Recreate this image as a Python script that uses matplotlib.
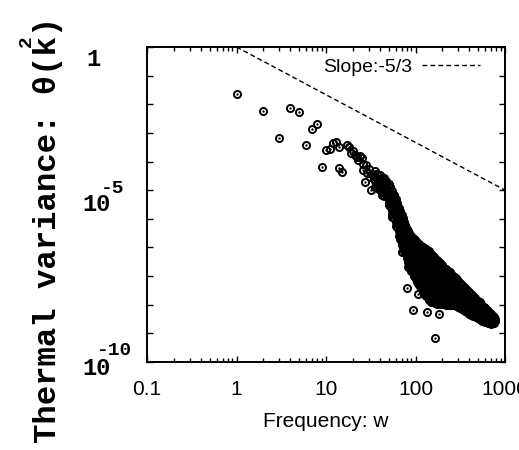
import numpy as np
import matplotlib
matplotlib.use('Agg')
import matplotlib.pyplot as plt
from matplotlib.ticker import FixedLocator, NullFormatter, NullLocator, LogLocator

# scattered low-frequency points: frequency w and log10 of theta^2(k)
sparse_w = [1, 2, 3, 4, 5, 6, 7, 8, 9, 10, 11, 12, 13, 14, 14, 15, 17, 18, 19, 20,
            21, 22, 23, 24, 25, 26, 26, 27, 28, 29, 30, 31, 32, 33, 34, 42,
            70, 80, 83, 94, 107, 133, 165, 185]
sparse_logy = [-1.65, -2.23, -3.17, -2.12, -2.26, -3.42, -2.87, -2.70, -4.20, -3.60,
               -3.55, -3.36, -3.31, -3.50, -4.24, -4.35, -3.42, -3.48, -3.71, -3.62,
               -3.78, -3.85, -3.95, -3.80, -3.88, -4.10, -4.29, -4.70, -4.12, -4.41,
               -4.25, -4.55, -4.99, -4.45, -4.62, -5.17,
               -7.15, -8.43, -7.67, -9.18, -8.62, -9.24, -10.17, -9.33]

# dense part: several values for each frequency
dense_w = [35, 40, 45, 50, 55, 60, 65, 70, 75, 80, 85, 90, 95, 100, 110, 120, 130,
           140, 150, 160, 175, 190, 200, 220, 240, 260, 280, 300, 330, 360, 400,
           440, 480, 520, 560, 600, 650, 700, 750, 780]
dense_logy = [
    [-4.33, -4.50, -4.68, -4.89],
    [-4.48, -4.64, -4.82, -5.00],
    [-4.58, -4.74, -4.92, -5.08, -5.19],
    [-4.80, -4.96, -5.12, -5.30, -5.46, -5.52],
    [-5.02, -5.18, -5.35, -5.52, -5.68, -5.84, -5.92],
    [-5.31, -5.46, -5.62, -5.78, -5.94, -6.10, -6.24],
    [-5.63, -5.78, -5.94, -6.10, -6.26, -6.42, -6.60],
    [-5.88, -6.03, -6.19, -6.35, -6.51, -6.67, -6.82, -6.92],
    [-6.12, -6.27, -6.43, -6.59, -6.75, -6.91, -7.05, -7.12],
    [-6.35, -6.50, -6.66, -6.82, -6.98, -7.14, -7.28, -7.38],
    [-6.51, -6.66, -6.82, -6.98, -7.14, -7.30, -7.46, -7.60],
    [-6.61, -6.76, -6.92, -7.08, -7.24, -7.40, -7.56, -7.70, -7.82],
    [-6.69, -6.84, -7.00, -7.16, -7.32, -7.48, -7.64, -7.80, -7.95],
    [-6.76, -6.91, -7.07, -7.23, -7.39, -7.55, -7.71, -7.87, -8.02, -8.10],
    [-6.89, -7.04, -7.20, -7.36, -7.52, -7.68, -7.84, -8.00, -8.16, -8.32],
    [-6.98, -7.13, -7.29, -7.45, -7.61, -7.77, -7.93, -8.09, -8.25, -8.41, -8.56],
    [-7.06, -7.21, -7.37, -7.53, -7.69, -7.85, -8.01, -8.17, -8.33, -8.49, -8.65, -8.71],
    [-7.14, -7.29, -7.45, -7.61, -7.77, -7.93, -8.09, -8.25, -8.41, -8.57, -8.73, -8.84],
    [-7.24, -7.39, -7.55, -7.71, -7.87, -8.03, -8.19, -8.35, -8.51, -8.67, -8.83, -8.91],
    [-7.33, -7.48, -7.64, -7.80, -7.96, -8.12, -8.28, -8.44, -8.60, -8.76, -8.90],
    [-7.45, -7.60, -7.76, -7.92, -8.08, -8.24, -8.40, -8.56, -8.72, -8.88, -8.96],
    [-7.56, -7.71, -7.87, -8.03, -8.19, -8.35, -8.51, -8.67, -8.83, -8.98],
    [-7.63, -7.78, -7.94, -8.10, -8.26, -8.42, -8.58, -8.74, -8.90, -8.99],
    [-7.76, -7.91, -8.07, -8.23, -8.39, -8.55, -8.71, -8.87, -9.01],
    [-7.87, -8.02, -8.18, -8.34, -8.50, -8.66, -8.82, -8.98],
    [-7.98, -8.13, -8.29, -8.45, -8.61, -8.77, -8.93, -9.01],
    [-8.08, -8.23, -8.39, -8.55, -8.71, -8.87, -9.02],
    [-8.18, -8.33, -8.49, -8.65, -8.81, -8.97, -9.08],
    [-8.31, -8.46, -8.62, -8.78, -8.94, -9.10, -9.16],
    [-8.43, -8.58, -8.74, -8.90, -9.06, -9.23],
    [-8.57, -8.72, -8.88, -9.04, -9.20, -9.31],
    [-8.70, -8.85, -9.01, -9.17, -9.38],
    [-8.82, -8.97, -9.13, -9.29, -9.44],
    [-8.92, -9.07, -9.23, -9.39, -9.50],
    [-9.03, -9.18, -9.34, -9.50, -9.56],
    [-9.12, -9.27, -9.43, -9.60],
    [-9.23, -9.38, -9.52, -9.64],
    [-9.33, -9.48, -9.62, -9.66],
    [-9.43, -9.55, -9.64],
    [-9.50, -9.58],
]
# in-between frequencies of the dense part
mid_w = [37, 42, 47, 52, 57, 62, 67, 72, 77, 82, 87, 92, 97, 105, 115, 125, 135,
         145, 155, 167, 182, 195, 210, 230, 250, 270, 290, 315, 345, 380, 420,
         460, 500, 540, 580, 625, 675, 725]
mid_logy = [
    [-4.42, -4.60, -4.78, -4.94],
    [-4.56, -4.73, -4.91, -5.08],
    [-4.68, -4.85, -5.02, -5.18],
    [-4.90, -5.06, -5.22, -5.39, -5.55],
    [-5.16, -5.32, -5.48, -5.64, -5.80, -5.96],
    [-5.46, -5.62, -5.78, -5.94, -6.10, -6.28],
    [-5.74, -5.90, -6.06, -6.22, -6.38, -6.54, -6.70],
    [-5.98, -6.14, -6.30, -6.46, -6.62, -6.78, -6.96],
    [-6.22, -6.38, -6.54, -6.70, -6.86, -7.02, -7.20],
    [-6.42, -6.58, -6.74, -6.90, -7.06, -7.22, -7.40, -7.50],
    [-6.56, -6.72, -6.88, -7.04, -7.20, -7.36, -7.52, -7.66],
    [-6.66, -6.82, -6.98, -7.14, -7.30, -7.46, -7.62, -7.80],
    [-6.72, -6.88, -7.04, -7.20, -7.36, -7.52, -7.68, -7.84, -7.98],
    [-6.84, -6.99, -7.15, -7.31, -7.47, -7.63, -7.79, -7.95, -8.11, -8.22],
    [-6.94, -7.10, -7.26, -7.42, -7.58, -7.74, -7.90, -8.06, -8.22, -8.40],
    [-7.02, -7.18, -7.34, -7.50, -7.66, -7.82, -7.98, -8.14, -8.30, -8.46, -8.62],
    [-7.10, -7.26, -7.42, -7.58, -7.74, -7.90, -8.06, -8.22, -8.38, -8.54, -8.70],
    [-7.19, -7.35, -7.51, -7.67, -7.83, -7.99, -8.15, -8.31, -8.47, -8.63, -8.79],
    [-7.29, -7.45, -7.61, -7.77, -7.93, -8.09, -8.25, -8.41, -8.57, -8.73, -8.88],
    [-7.39, -7.55, -7.71, -7.87, -8.03, -8.19, -8.35, -8.51, -8.67, -8.83, -8.93],
    [-7.51, -7.67, -7.83, -7.99, -8.15, -8.31, -8.47, -8.63, -8.79, -8.94],
    [-7.60, -7.76, -7.92, -8.08, -8.24, -8.40, -8.56, -8.72, -8.88, -8.98],
    [-7.70, -7.86, -8.02, -8.18, -8.34, -8.50, -8.66, -8.82, -8.96],
    [-7.82, -7.98, -8.14, -8.30, -8.46, -8.62, -8.78, -8.94, -9.01],
    [-7.93, -8.09, -8.25, -8.41, -8.57, -8.73, -8.89, -9.01],
    [-8.03, -8.19, -8.35, -8.51, -8.67, -8.83, -8.99],
    [-8.13, -8.29, -8.45, -8.61, -8.77, -8.93, -9.05],
    [-8.25, -8.41, -8.57, -8.73, -8.89, -9.05, -9.12],
    [-8.37, -8.53, -8.69, -8.85, -9.01, -9.18],
    [-8.50, -8.66, -8.82, -8.98, -9.14, -9.27],
    [-8.64, -8.80, -8.96, -9.12, -9.28, -9.35],
    [-8.76, -8.92, -9.08, -9.24, -9.41],
    [-8.87, -9.03, -9.19, -9.35, -9.47],
    [-8.98, -9.14, -9.30, -9.46, -9.53],
    [-9.08, -9.24, -9.40, -9.58],
    [-9.18, -9.33, -9.48, -9.62],
    [-9.28, -9.43, -9.58, -9.65],
    [-9.38, -9.52, -9.63],
]

# reference line
slope_w = [1, 1000]
slope_label = 'Slope:-5/3'

xtick_vals = [0.1, 1, 10, 100, 1000]
xtick_labels = ['0.1', '1', '10', '100', '1000']

plt.rcParams['font.family'] = 'Liberation Sans'
mono = 'Liberation Mono'

w = list(sparse_w)
ly = list(sparse_logy)
for wi, col in list(zip(dense_w, dense_logy)) + list(zip(mid_w, mid_logy)):
    w += [wi] * len(col)
    ly += col
w = np.array(w, dtype=float)
theta2 = 10.0 ** np.array(ly)

fig = plt.figure(figsize=(5.19, 4.5), dpi=100)
ax = fig.add_axes([147/519, 88/450, 358/519, 315/450])

ax.plot(w, theta2, 'o', mfc='none', mec='k', ms=5.1, mew=1.4, ls='none')
ax.plot(w, theta2, '.', color='k', ms=1.4, ls='none')
sw = np.array(slope_w, dtype=float)
ax.plot(sw, sw ** (-5.0 / 3.0), color='k', lw=1.0, ls=(0, (3.5, 2.2)), label=slope_label)

ax.set_xscale('log')
ax.set_yscale('log')
ax.set_xlim(0.1, 1000)
ax.set_ylim(1e-11, 1)

ax.xaxis.set_major_locator(FixedLocator(xtick_vals))
ax.set_xticklabels(xtick_labels, fontsize=15)
ax.xaxis.set_minor_locator(LogLocator(base=10, subs=np.arange(2, 10)))
ax.xaxis.set_minor_formatter(NullFormatter())
ax.yaxis.set_major_locator(FixedLocator([10.0 ** k for k in range(-11, 1)]))
ax.yaxis.set_major_formatter(NullFormatter())
ax.yaxis.set_minor_locator(NullLocator())

ax.tick_params(which='both', direction='in', top=True, right=True, width=1.0)
ax.tick_params(which='major', length=4.5)
ax.tick_params(which='minor', length=2.8)
ax.tick_params(axis='x', which='major', pad=13)
for s in ax.spines.values():
    s.set_linewidth(1.4)

# y tick labels (bold typewriter, placed like the original)
def ylab(val, text, dx, dy, size):
    ax.annotate(text, xy=(0, val), xycoords=('axes fraction', 'data'),
                xytext=(dx, dy), textcoords='offset pixels', ha='center', va='center',
                family=mono, weight='bold', fontsize=size, annotation_clip=False)

ylab(1, '1', -54, -13, 17)
ylab(1e-5, '10', -51, -14, 17)
ylab(1e-5, '-5', -34, 2, 14)
ylab(1e-10, '10', -51, -35, 17)
ylab(1e-10, '-10', -33, -17, 14)

ax.set_xlabel('Frequency: w', fontsize=15, labelpad=9)
fig.text(48/519, 1 - 230/450, 'Thermal variance: θ(k)', rotation=90, ha='center', va='center',
         family=mono, weight='bold', fontsize=23.3)
fig.text(26/519, 1 - 41/450, '2', rotation=90, ha='center', va='center',
         family=mono, weight='bold', fontsize=14)

ax.legend(loc='upper right', bbox_to_anchor=(0.930, 0.965), frameon=False, markerfirst=False,
          handlelength=3.0, handletextpad=0.5, borderpad=0, borderaxespad=0, fontsize=14)

fig.savefig('out.png', dpi=100)
